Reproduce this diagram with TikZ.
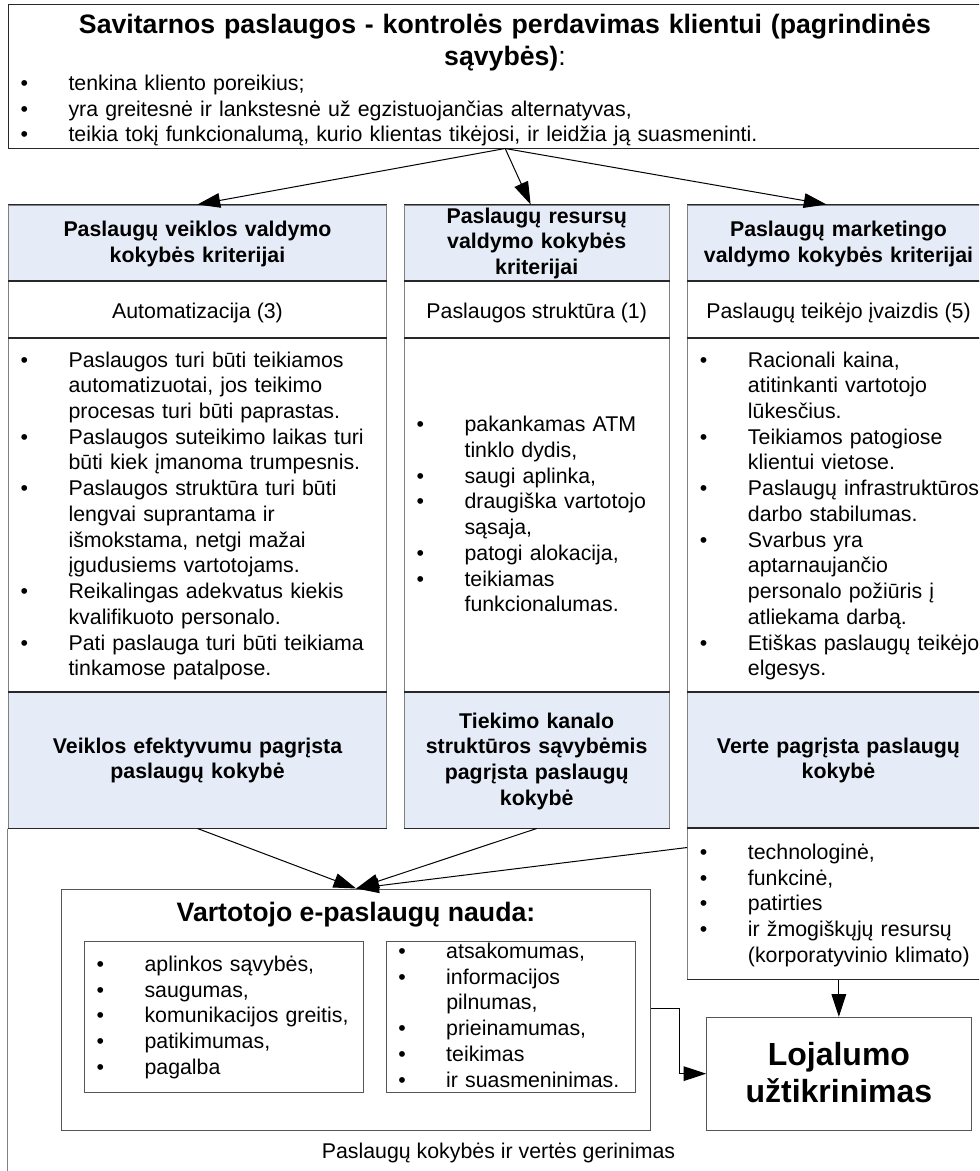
\documentclass[tikz,border=0pt]{standalone}
\usepackage{fontspec}
\setmainfont{Liberation Sans}
\usetikzlibrary{arrows.meta,fit,calc}

\definecolor{band}{RGB}{230,236,247}
\definecolor{vline}{RGB}{128,128,128}
\definecolor{hline}{RGB}{40,40,40}
\definecolor{boxline}{RGB}{85,85,85}

% bullet item with hanging indent; continuation lines use \newline
\newcommand\bitem[1]{\hangindent=45pt\hangafter=1\makebox[45pt][l]{\hspace{9pt}\textbullet}#1\par}

\tikzset{
  cellbox/.style={inner sep=0pt, draw=vline, line width=0.75pt, fill=#1},
  plainbox/.style={inner sep=0pt, draw=boxline, line width=0.75pt, fill=white},
  bodytxt/.style={anchor=base west, inner sep=0pt, text width=#1, align=left,
    font=\fontsize{16}{19.3}\selectfont},
  headtxt/.style={anchor=base, inner sep=0pt, text width=300pt, align=center,
    font=\fontsize{16}{19.3}\selectfont\bfseries},
  plaintxt/.style={anchor=base, inner sep=0pt, font=\fontsize{16}{19.3}\selectfont},
  arr/.style={-{Triangle[length=17pt,width=11pt]}, line width=0.75pt, black},
  darkedge/.style={line width=0.75pt, hline},
}

\begin{document}
\begin{tikzpicture}[x=0.75pt, y=-0.75pt]
\useasboundingbox (0,0) rectangle (979,1171);
\fill[white] (0,0) rectangle (979,1171);
\clip (0,0) rectangle (979,1171);

% ---------- top box ----------
\node[inner sep=0pt, draw=hline, line width=0.75pt, fit={(8.3,4) (1002,148)}] (top) {};
\node[anchor=base, inner sep=0pt, text width=700pt, align=center,
      font=\fontsize{20}{24}\selectfont\bfseries] (title) at (505,33)
  {Savitarnos paslaugos - kontrolės perdavimas klientui (pagrindinės\\sąvybės){\mdseries:}};
\node[bodytxt=900pt] (topitems) at (8.3,90.5) {%
  \bitem{tenkina kliento poreikius;}%
  \bitem{yra greitesnė ir lankstesnė už egzistuojančias alternatyvas,}%
  \bitem{teikia tokį funkcionalumą, kurio klientas tikėjosi, ir leidžia ją suasmeninti.}};

% ---------- the three columns ----------
\node[cellbox=band,  fit={(8.3,205) (386.7,281)}]   (h1) {};
\node[cellbox=white, fit={(8.3,281) (386.7,338)}]   (s1) {};
\node[cellbox=white, fit={(8.3,338) (386.7,692)}]   (b1) {};
\node[cellbox=band,  fit={(8.3,692) (386.7,828)}]   (l1) {};

\node[cellbox=band,  fit={(404.3,205) (669,281)}]   (h2) {};
\node[cellbox=white, fit={(404.3,281) (669,338)}]   (s2) {};
\node[cellbox=white, fit={(404.3,338) (669,692)}]   (b2) {};
\node[cellbox=band,  fit={(404.3,692) (669,828)}]   (l2) {};

\node[cellbox=band,  fit={(687.7,205) (989.3,281)}] (h3) {};
\node[cellbox=white, fit={(687.7,281) (989.3,338)}] (s3) {};
\node[cellbox=white, fit={(687.7,338) (989.3,692)}] (b3) {};
\node[cellbox=band,  fit={(687.7,692) (989.3,828)}] (l3) {};
\node[cellbox=white, fit={(687.7,828) (989.3,979)}] (e3) {};

% darker horizontal rules between the cells
\foreach \n in {h1,s1,b1,l1,h2,s2,b2,l2,h3,s3,b3,l3,e3}
  \draw[darkedge] (\n.north west) -- (\n.north east) (\n.south west) -- (\n.south east);

% column headers
\node[headtxt] (th1) at (197.5,236.5) {Paslaugų veiklos valdymo\\kokybės kriterijai};
\node[headtxt] (th2) at (536.7,223)   {Paslaugų resursų\\valdymo kokybės\\kriterijai};
\node[headtxt] (th3) at (838.5,236.5) {Paslaugų marketingo\\valdymo kokybės kriterijai};

% sub-headers
\node[plaintxt] (ts1) at (197.5,318) {Automatizacija (3)};
\node[plaintxt] (ts2) at (536.7,318) {Paslaugos struktūra (1)};
\node[plaintxt] (ts3) at (838.5,318) {Paslaugų teikėjo įvaizdis (5)};

% column bodies
\node[bodytxt=280pt] (tb1) at (8.3,367) {%
  \bitem{Paslaugos turi būti teikiamos\newline automatizuotai, jos teikimo\newline procesas turi būti paprastas.}%
  \bitem{Paslaugos suteikimo laikas turi\newline būti kiek įmanoma trumpesnis.}%
  \bitem{Paslaugos struktūra turi būti\newline lengvai suprantama ir\newline išmokstama, netgi mažai\newline įgudusiems vartotojams.}%
  \bitem{Reikalingas adekvatus kiekis\newline kvalifikuoto personalo.}%
  \bitem{Pati paslauga turi būti teikiama\newline tinkamose patalpose.}};

\node[bodytxt=240pt] (tb2) at (404.3,431.7) {%
  \bitem{pakankamas ATM\newline tinklo dydis,}%
  \bitem{saugi aplinka,}%
  \bitem{draugiška vartotojo\newline sąsaja,}%
  \bitem{patogi alokacija,}%
  \bitem{teikiamas\newline funkcionalumas.}};

\node[bodytxt=280pt] (tb3) at (687.7,367) {%
  \bitem{Racionali kaina,\newline atitinkanti vartotojo\newline lūkesčius.}%
  \bitem{Teikiamos patogiose\newline klientui vietose.}%
  \bitem{Paslaugų infrastruktūros\newline darbo stabilumas.}%
  \bitem{Svarbus yra\newline aptarnaujančio\newline personalo požiūris į\newline atliekama darbą.}%
  \bitem{Etiškas paslaugų teikėjo\newline elgesys.}};

% lower bands
\node[headtxt] (tl1) at (197.5,753) {Veiklos efektyvumu pagrįsta\\paslaugų kokybė};
\node[headtxt] (tl2) at (536.7,728) {Tiekimo kanalo\\struktūros sąvybėmis\\pagrįsta paslaugų\\kokybė};
\node[headtxt] (tl3) at (838.5,753) {Verte pagrįsta paslaugų\\kokybė};

\node[bodytxt=280pt] (te3) at (687.7,859.5) {%
  \bitem{technologinė,}%
  \bitem{funkcinė,}%
  \bitem{patirties}%
  \bitem{ir žmogiškųjų resursų\newline (korporatyvinio klimato)}};

% ---------- bottom area ----------
\draw[line width=0.75pt, vline] (l1.south west) -- ++(0,360);

\node[plainbox, fit={(61.7,889) (650.7,1130)}]   (nauda) {};
\node[anchor=base, inner sep=0pt, font=\fontsize{20}{24}\selectfont\bfseries] (tnauda)
  at (356,921.7) {Vartotojo e-paslaugų nauda:};
\node[plainbox, fit={(84.3,941.7) (363.3,1092.7)}] (inL) {};
\node[plainbox, fit={(386,941.7) (635.3,1092.7)}]  (inR) {};

\node[bodytxt=220pt] (tinL) at (84.3,971.5) {%
  \bitem{aplinkos sąvybės,}%
  \bitem{saugumas,}%
  \bitem{komunikacijos greitis,}%
  \bitem{patikimumas,}%
  \bitem{pagalba}};
\node[bodytxt=220pt] (tinR) at (386,958.5) {%
  \bitem{atsakomumas,}%
  \bitem{informacijos\newline pilnumas,}%
  \bitem{prieinamumas,}%
  \bitem{teikimas}%
  \bitem{ir suasmeninimas.}};

\node[plaintxt] (gerinimas) at (498.5,1158.3) {Paslaugų kokybės ir vertės gerinimas};

\node[plainbox, fit={(706.7,1017.3) (971,1130)}] (loj) {};
\node[anchor=base, inner sep=0pt, text width=250pt, align=center,
      font=\fontsize{24}{27.75}\selectfont\bfseries] (tloj) at (838.9,1065)
  {Lojalumo\\užtikrinimas};

% ---------- connectors ----------
\draw[arr] (top.south) -- (h1.north);
\draw[arr] (top.south) -- ($(h2.north)+(-6,0)$);
\draw[arr] (top.south) -- ($(h3.north west)+(139.3,0)$);

\draw[arr] (l1.south) -- (nauda.north);
\draw[arr] (l2.south) -- (nauda.north);
\draw[arr] ($(e3.north west)+(0,20)$) -- (nauda.north);

\draw[arr] (loj.north |- e3.south) -- (loj.north);
\draw[arr] ($(nauda.north east)+(0,120)$) -- ++(28,0) |- (loj.west);
\end{tikzpicture}
\end{document}
